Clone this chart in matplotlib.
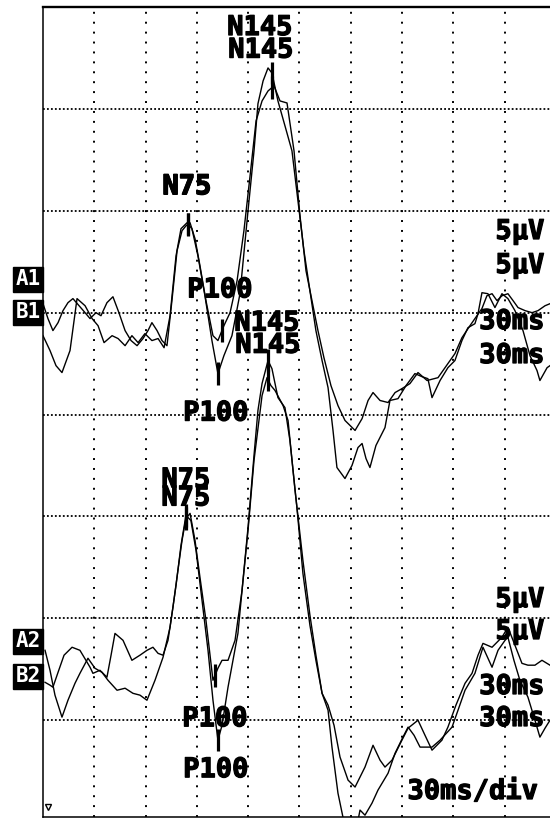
import numpy as np
import matplotlib
matplotlib.use("Agg")
import matplotlib.pyplot as plt
import matplotlib.transforms as mtransforms
import matplotlib.patheffects as pe

# ---------------- data (time in ms, amplitude in microvolts) ----------------
t_a1 = [0, 4.1, 7.6, 11.1, 15.8, 19.9, 24.6, 28.7, 32.2, 35.7,
        40.4, 43.9, 48.0, 52.0, 55.6, 59.6, 63.7, 67.3, 70.8, 74.3,
        77.8, 80.7, 84.2, 87.1, 90.6, 94.7, 98.8, 102.3, 105.8, 110.5,
        115.2, 119.9, 123.4, 125.7, 128.7, 131.6, 133.9, 137.4, 141.5, 145.6,
        149.1, 152.6, 156.1, 159.6, 163.2, 166.7, 169.6, 171.9, 176.6, 180.7,
        184.2, 186.6, 188.9, 191.2, 194.7, 200.0, 202.9, 207.6, 212.3, 217.5,
        221.6, 225.1, 227.5, 232.2, 236.8, 240.9, 245.0, 248.5, 252.6, 254.4,
        256.7, 260.2, 264.3, 268.4, 271.9, 276.0, 280.7, 284.8, 288.9, 290.6,
        294.8, 296.5]
v_a1 = [-1.13, -1.86, -2.60, -2.94, -1.86, 0.69, 0.34, -0.29, -0.64, -1.47,
        -1.13, -1.27, -1.62, -1.13, -1.47, -1.03, -1.37, -1.27, -1.72, -0.15,
        2.79, 4.12, 4.41, 4.12, 2.79, 0.83, -1.37, -2.99, -2.11, -1.13,
        0.93, 5.00, 7.94, 10.25, 11.37, 12.01, 11.76, 10.39, 9.17, 7.94,
        5.49, 3.04, 1.08, -0.88, -2.35, -3.68, -5.78, -7.60, -8.14, -7.50,
        -6.62, -6.42, -7.16, -7.60, -6.52, -5.64, -4.31, -4.22, -3.58, -2.99,
        -3.14, -3.24, -4.17, -3.33, -2.70, -2.35, -1.37, -0.74, -0.54, -0.05,
        0.98, 0.93, 0.25, 0.93, 0.69, 0.10, -0.88, -2.11, -2.84, -3.33,
        -2.70, -2.60]

t_b1 = [0, 2.9, 5.8, 8.8, 11.7, 14.6, 17.5, 21.1, 24.6, 27.5,
        31.0, 33.9, 37.4, 40.9, 44.4, 48.0, 51.5, 55.0, 58.5, 61.4,
        63.7, 66.7, 69.6, 72.5, 75.4, 78.4, 81.3, 83.6, 86.0, 88.9,
        91.8, 95.3, 99.4, 102.3, 105.8, 109.4, 113.5, 117.5, 121.1, 124.6,
        128.1, 131.6, 135.1, 138.6, 142.7, 146.8, 150.3, 153.8, 157.3, 160.8,
        164.3, 168.4, 172.5, 176.6, 182.5, 186.6, 190.1, 193.0, 197.1, 201.8,
        205.9, 209.9, 214.6, 219.3, 224.6, 231.0, 235.1, 240.9, 245.0, 249.7,
        252.6, 256.7, 259.6, 262.6, 265.5, 268.4, 271.9, 274.9, 277.8, 281.9,
        286.0, 289.5, 293.6, 296.5]
v_b1 = [0.44, -0.29, -0.88, -0.49, 0.10, 0.49, 0.69, 0.34, 0.00, -0.29,
        0.00, -0.15, 0.49, 0.78, 0.00, -0.88, -1.37, -1.62, -1.27, -0.88,
        -0.49, -0.88, -1.37, -1.62, 0.59, 3.04, 4.02, 4.26, 4.41, 3.63,
        2.30, 0.59, -1.13, -1.37, -0.64, 0.00, 1.57, 4.02, 6.72, 9.41,
        10.39, 10.88, 11.13, 10.39, 10.29, 7.94, 4.75, 2.06, 0.59, -0.88,
        -2.21, -3.58, -4.56, -5.29, -5.78, -5.20, -4.31, -3.92, -4.31, -4.41,
        -3.92, -3.73, -3.48, -2.94, -3.33, -3.19, -2.70, -2.01, -1.23, -0.64,
        -0.29, 0.20, 0.83, 0.93, 0.59, 0.83, 0.93, 0.59, 0.25, 0.10,
        0.00, 0.10, 0.34, 0.44]

t_a2 = [1.2, 4.1, 7.0, 11.1, 14.6, 18.7, 21.6, 26.3, 30.4, 34.5,
        38.0, 43.3, 48.0, 52.6, 56.7, 60.8, 65.5, 70.2, 74.3, 77.8,
        80.7, 83.6, 86.5, 89.5, 93.0, 96.5, 99.4, 102.3, 104.7, 108.2,
        114.0, 119.9, 123.4, 125.7, 128.1, 131.6, 133.9, 137.4, 141.5, 144.4,
        148.5, 152.0, 156.1, 159.6, 163.2, 166.7, 169.0, 172.5, 175.4, 178.4,
        182.5, 185.4, 188.3, 192.4, 195.9, 201.8, 205.9, 210.5, 213.5, 217.0,
        220.5, 227.5, 232.2, 239.2, 242.7, 246.8, 252.6, 257.3, 262.6, 266.1,
        270.2, 271.9, 275.4, 278.9, 283.6, 287.7, 290.6, 293.6, 296.5]
v_a2 = [-1.57, -2.55, -3.77, -4.85, -4.02, -3.19, -2.70, -1.96, -2.45, -2.65,
        -3.04, -3.53, -3.43, -3.68, -3.77, -4.02, -3.04, -1.91, -0.44, 1.62,
        3.58, 5.05, 4.80, 3.33, 0.88, -1.57, -4.02, -5.98, -5.25, -3.38,
        -0.74, 4.46, 7.99, 10.20, 11.52, 12.65, 12.25, 10.83, 10.34, 8.73,
        5.44, 2.21, -0.34, -2.06, -3.68, -4.51, -6.32, -8.58, -9.75, -10.39,
        -10.64, -9.41, -9.66, -9.07, -8.43, -7.60, -6.62, -5.83, -5.34, -5.74,
        -6.32, -6.32, -5.98, -5.34, -4.51, -3.53, -2.70, -1.42, -2.40, -1.57,
        -1.08, -0.93, -2.06, -3.04, -3.87, -5.00, -5.83, -5.39, -5.00]

t_b2 = [1.2, 4.1, 5.8, 8.8, 12.3, 17.0, 21.6, 25.1, 27.5, 29.2,
        33.3, 37.4, 39.8, 42.1, 46.8, 52.0, 56.7, 60.8, 64.3, 67.3,
        70.2, 73.1, 76.0, 78.9, 81.3, 83.6, 86.0, 88.9, 91.8, 95.3,
        99.4, 102.3, 104.7, 108.2, 112.3, 116.4, 119.9, 123.4, 128.1, 131.0,
        133.3, 135.7, 140.4, 143.3, 147.4, 152.0, 156.1, 159.6, 163.2, 166.7,
        170.2, 173.7, 178.4, 182.5, 185.4, 188.3, 193.0, 197.1, 200.0, 204.1,
        209.9, 213.5, 219.3, 223.4, 227.5, 233.3, 236.8, 241.5, 246.8, 250.9,
        254.4, 257.3, 262.6, 268.4, 271.9, 276.0, 280.1, 283.6, 287.7, 291.8,
        296.5]
v_b2 = [-3.14, -3.28, -3.38, -2.65, -1.81, -1.42, -1.57, -2.06, -2.40, -2.70,
        -2.55, -2.89, -1.81, -0.74, -1.08, -2.06, -1.81, -1.57, -1.42, -1.72,
        -1.81, -1.08, 0.54, 2.35, 3.82, 4.90, 5.15, 3.82, 2.01, -0.10,
        -3.04, -2.45, -2.06, -2.06, -1.08, 1.37, 4.31, 7.75, 10.93, 11.81,
        11.42, 11.18, 10.44, 9.71, 6.27, 2.84, 0.15, -1.81, -3.68, -4.26,
        -5.25, -6.81, -7.94, -8.28, -7.79, -7.30, -6.23, -6.96, -7.30, -6.96,
        -5.98, -5.39, -5.00, -5.74, -6.47, -5.98, -5.34, -4.26, -3.19, -2.70,
        -1.81, -1.23, -1.42, -0.93, -0.44, -1.32, -2.21, -2.30, -2.30, -2.06,
        -2.30]

# peak latencies (ms)
peak_names = ["N75", "P100", "N145"]
peaks_a1 = [84.8, 102.3, 133.9]
peaks_b1 = [84.8, 104.7, 133.9]
peaks_a2 = [83.6, 102.3, 131.6]
peaks_b2 = [83.6, 100.6, 131.6]

channel_labels = ["A1", "B1", "A2", "B2"]
scale_amp = "5\u00b5V"
scale_time = "30ms"
sweep_label = "30ms/div"
div_ms = 30
div_uv = 5

# ---------------- layout ----------------
W, H = 550, 824
fig = plt.figure(figsize=(W / 100, H / 100), dpi=100)
ax = fig.add_axes([43 / W, 7 / H, 507 / W, 810 / H])
ax.set_xlim(0, 296.5)
ax.set_ylim(0.25, 40)
ax.set_xticks([])
ax.set_yticks([])
ax.spines["right"].set_visible(False)
ax.spines["top"].set_linewidth(1.7)
ax.spines["left"].set_linewidth(1.1)
ax.spines["bottom"].set_linewidth(1.1)

UPPER_BASE = 25
LOWER_BASE = 10

# dotted grid
for t in range(div_ms, 300, div_ms):
    ax.axvline(t, color="k", lw=1.4, linestyle=(0, (1, 4.1)), zorder=1)
for v in range(div_uv, 40, div_uv):
    ax.axhline(v, color="k", lw=1.3, linestyle=(0, (1, 1.2)), zorder=1)

BOLD = [pe.withStroke(linewidth=0.9, foreground="black")]
FONT = dict(family="DejaVu Sans Mono", weight="bold", fontsize=19.5)
traces = [
    (t_a1, v_a1, UPPER_BASE, peaks_a1, [(-1, 37), (-2, -40), (-12, 45)]),
    (t_b1, v_b1, UPPER_BASE, peaks_b1, [(-1, 37), (-2, 40), (-11, 37)]),
    (t_a2, v_a2, LOWER_BASE, peaks_a2, [(0, 35), (-2, -30), (-1, 37)]),
    (t_b2, v_b2, LOWER_BASE, peaks_b2, [(0, 20), (0, -44), (0, 34)]),
]
for tt, vv, base, pk, offs in traces:
    tt = np.asarray(tt)
    vv = np.asarray(vv) + base
    ax.plot(tt, vv, color="k", lw=1.0, zorder=3)
    for name, lat, (dx, dy) in zip(peak_names, pk, offs):
        y = np.interp(lat, tt, vv)
        ax.plot([lat, lat], [y - 0.55, y + 0.55], color="k", lw=2.3,
                solid_capstyle="butt", zorder=4)
        ax.annotate(name, xy=(lat, y), xytext=(dx, dy), textcoords="offset pixels",
                    ha="center", va="center", zorder=5, path_effects=BOLD, **FONT)

# scale texts on the right
for yy in (232, 266, 600, 632):
    fig.text(520 / W, 1 - yy / H, scale_amp, ha="center", va="center",
             path_effects=BOLD, **FONT)
for yy in (322, 356, 687, 719):
    fig.text(512 / W, 1 - yy / H, scale_time, ha="center", va="center",
             path_effects=BOLD, **FONT)
fig.text(473 / W, 1 - 792 / H, sweep_label, ha="center", va="center",
         path_effects=BOLD, **FONT)

# channel boxes
for lab, yy in zip(channel_labels, (279, 312, 641, 676)):
    fig.text(28 / W, 1 - yy / H, lab, ha="center", va="center", fontsize=15,
             color="white", family="DejaVu Sans Mono", weight="bold",
             bbox=dict(boxstyle="square,pad=0.12", fc="black", ec="black"))

# stimulus onset marker
trans = mtransforms.blended_transform_factory(ax.transData, ax.transAxes)
ax.plot([3], [0.012], marker="v", ms=5, mfc="none", mec="k", mew=1.0,
        transform=trans, clip_on=False)

fig.savefig("out.png", dpi=100)
